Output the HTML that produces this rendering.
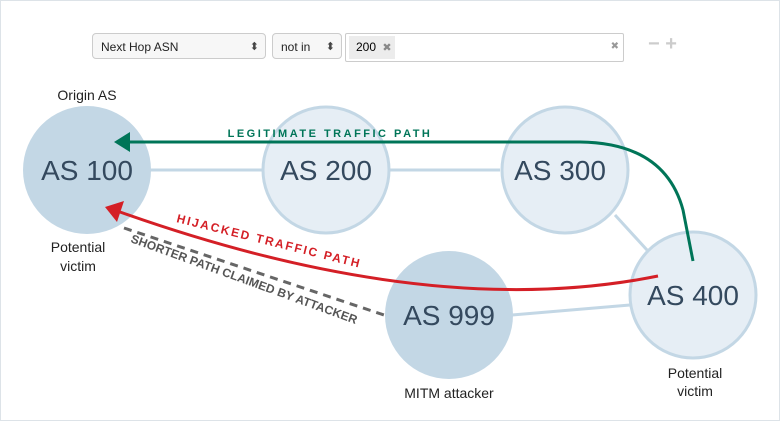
<!DOCTYPE html>
<html><head><meta charset="utf-8"><style>
body{margin:0;width:780px;height:421px;overflow:hidden;background:#fff;font-family:"Liberation Sans",sans-serif}
.wrap{position:absolute;left:0;top:0;width:778px;height:419px;border:1px solid #dde3e8}
.sel{position:absolute;top:33px;height:26px;border:1px solid #ccc;border-radius:4px;background:#f7f7f7;font-size:12px;line-height:26px;padding-left:8px;box-sizing:border-box;color:#222}
.arr{position:absolute;right:6px;top:0;font-size:11px;color:#444}
</style></head><body><div class="wrap"></div>
<div class="sel" style="left:92px;width:174px">Next Hop ASN<span class="arr">⬍</span></div>
<div class="sel" style="left:272px;width:70px">not in<span class="arr">⬍</span></div>
<div style="position:absolute;left:345px;top:33px;width:279px;height:29px;border:1px solid #ccc;border-radius:2px;box-sizing:border-box;background:#fff">
<div style="position:absolute;left:3px;top:2px;width:46px;height:23px;background:#ececec;font-size:12px;line-height:23px;padding-left:7px;box-sizing:border-box">200 <span style="color:#888;font-size:11px;margin-left:3px">✖</span></div>
<span style="position:absolute;right:4px;top:7px;color:#999;font-size:10px">✖</span></div>
<div style="position:absolute;left:648px;top:33px;color:#ccc;font-size:20px;font-weight:bold">− +</div>
<svg width="780" height="421" style="position:absolute;left:0;top:0">
<g stroke="#c3d7e5" stroke-width="3">
<line x1="150" y1="170" x2="263" y2="170"/><line x1="390" y1="170" x2="500" y2="170"/>
<line x1="615" y1="215" x2="647" y2="250"/><line x1="512" y1="315" x2="630" y2="305"/></g>
<circle cx="87" cy="170" r="64" fill="#c3d7e5"/>
<circle cx="449" cy="315" r="64" fill="#c3d7e5"/>
<g fill="#e6eef5" stroke="#c3d7e5" stroke-width="3">
<circle cx="326" cy="170" r="63"/><circle cx="565" cy="170" r="63"/><circle cx="693" cy="295" r="63"/></g>
<g font-size="28" fill="#34495e" text-anchor="middle">
<text x="87" y="180">AS 100</text><text x="326" y="180">AS 200</text><text x="560" y="180">AS 300</text><text x="449" y="325">AS 999</text><text x="693" y="305">AS 400</text></g>
<g font-size="14" fill="#222" text-anchor="middle">
<text x="87" y="100">Origin AS</text><text x="78" y="252">Potential</text><text x="78" y="271">victim</text>
<text x="449" y="398">MITM attacker</text><text x="695" y="378">Potential</text><text x="695" y="396">victim</text></g>
<path d="M693 261 L683 210 Q665 143 580 142 L128 142" fill="none" stroke="#007558" stroke-width="3"/>
<polygon points="114,142 130,132 130,152" fill="#007558"/>
<text x="330" y="137" font-size="11" font-weight="bold" fill="#007558" letter-spacing="2.5" text-anchor="middle">LEGITIMATE TRAFFIC PATH</text>
<path d="M658 276 Q430 322 120 212" fill="none" stroke="#d41f26" stroke-width="3"/>
<polygon points="105,207 124,201 117,222" fill="#d41f26"/>
<text font-size="12" font-weight="bold" fill="#d41f26" letter-spacing="2" transform="translate(176,222) rotate(14)" textLength="190">HIJACKED TRAFFIC PATH</text>
<line x1="124" y1="228" x2="384" y2="315" stroke="#666" stroke-width="3" stroke-dasharray="8,6"/>
<text font-size="12" font-weight="bold" fill="#555" transform="translate(130,242) rotate(20)" textLength="240">SHORTER PATH CLAIMED BY ATTACKER</text>
</svg>
</body></html>
